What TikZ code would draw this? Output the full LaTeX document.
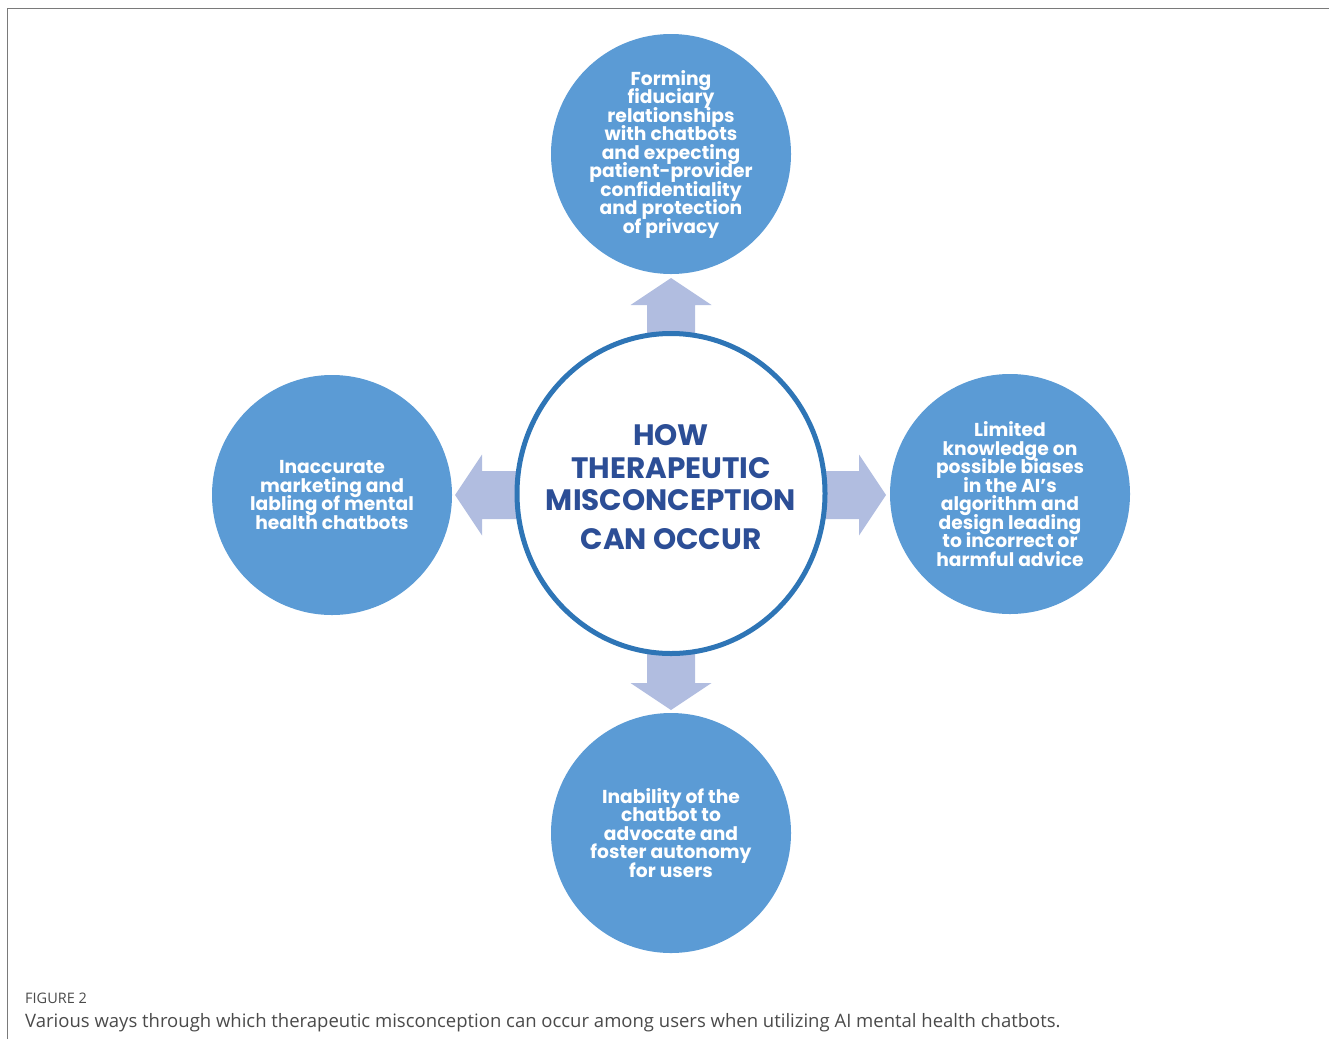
\documentclass[tikz,border=0pt]{standalone}
\usepackage{fontspec}
\usepackage{tikz}
\usetikzlibrary{calc, positioning, shapes}
\newfontfamily\roundfont{Poppins}
\newfontfamily\capfont{Open Sans}
\newcommand{\tightskip}{\lineskiplimit-50pt\relax}
\definecolor{satblue}{HTML}{5B9BD5}
\definecolor{hubblue}{HTML}{2E75B6}
\definecolor{hubtext}{HTML}{2C4E96}
\definecolor{arrowlav}{HTML}{B1BDE0}
\definecolor{framegray}{HTML}{7A7A7A}
\definecolor{capgray}{HTML}{4A4A4A}
\tikzset{
    satellite/.style={circle, fill=satblue, minimum size=240pt, inner sep=0pt,
        text=white, align=center,
        font=\roundfont\bfseries\fontsize{18.7}{18.5}\selectfont\tightskip},
    hub/.style={ellipse, draw=hubblue, line width=5pt, fill=white,
        minimum width=308pt, minimum height=320pt, inner sep=0pt},
    hubtitle/.style={inner sep=0pt, text=hubtext, align=center,
        font=\roundfont\bfseries\fontsize{29.5}{32.5}\selectfont\tightskip},
    blockarrow/.style={fill=arrowlav},
    captext/.style={inner sep=0pt, anchor=base west, font=\capfont}
}
% fat arrow from base #1 to tip #2
\newcommand{\fatarrow}[2]{%
    \path (#1) coordinate (fa-s) (#2) coordinate (fa-t);
    \path ($(fa-t)!27pt!(fa-s)$) coordinate (fa-h);
    \fill[blockarrow] ($(fa-s)!24pt!90:(fa-t)$) -- ($(fa-h)!24pt!-90:(fa-s)$)
        -- ($(fa-h)!40.5pt!-90:(fa-s)$) -- (fa-t) -- ($(fa-h)!40.5pt!90:(fa-s)$)
        -- ($(fa-h)!24pt!90:(fa-s)$) -- ($(fa-s)!24pt!-90:(fa-t)$) -- cycle;
}
\begin{document}
\begin{tikzpicture}[x=1pt, y=-1pt]
    \useasboundingbox (0,0) rectangle (1329,1039);
    % frame
    \draw[framegray, line width=1.5pt] (7.5,1039) -- (7.5,8.5) -- (1329,8.5);
    % arrows
    \coordinate (upbase) at (671,336);
    \coordinate (uptip) at (671,278);
    \coordinate (leftbase) at (518,495);
    \coordinate (lefttip) at (455,495);
    \coordinate (rightbase) at (824,495);
    \coordinate (righttip) at (886,495);
    \coordinate (downbase) at (671,652);
    \coordinate (downtip) at (671,710);
    \fatarrow{upbase}{uptip}
    \fatarrow{leftbase}{lefttip}
    \fatarrow{rightbase}{righttip}
    \fatarrow{downbase}{downtip}
    \node[hub] (hub) at (671,493.5) {};
    \node[hubtitle] (title) at (671,487) {HOW\\THERAPEUTIC\\MISCONCEPTION\\[6pt]CAN OCCUR};
    \node[satellite] (fiduciary) at (671,154) {Forming\\fiduciary\\relationships\\with chatbots\\and expecting\\patient-provider\\confidentiality\\and protection\\of privacy};
    \node[satellite] (marketing) at (332,495) {Inaccurate\\marketing and\\labling of mental\\health chatbots};
    \node[satellite] (biases) at (1010,494) {Limited\\knowledge on\\possible biases\\in the AI{\textquoteright}s\\algorithm and\\design leading\\to incorrect or\\harmful advice};
    \node[satellite] (autonomy) at (671,833) {Inability of the\\chatbot to\\advocate and\\foster autonomy\\for users};
    % caption
    \node[captext, text=capgray, font=\capfont\fontsize{14.5}{16}\selectfont] (figlabel) at (25,1003) {FIGURE 2};
    \node[captext, text=capgray, font=\capfont\fontsize{18.5}{20}\selectfont] (figcaption) at (25,1027) {Various ways through which therapeutic misconception can occur among users when utilizing AI mental health chatbots.};
\end{tikzpicture}
\end{document}
